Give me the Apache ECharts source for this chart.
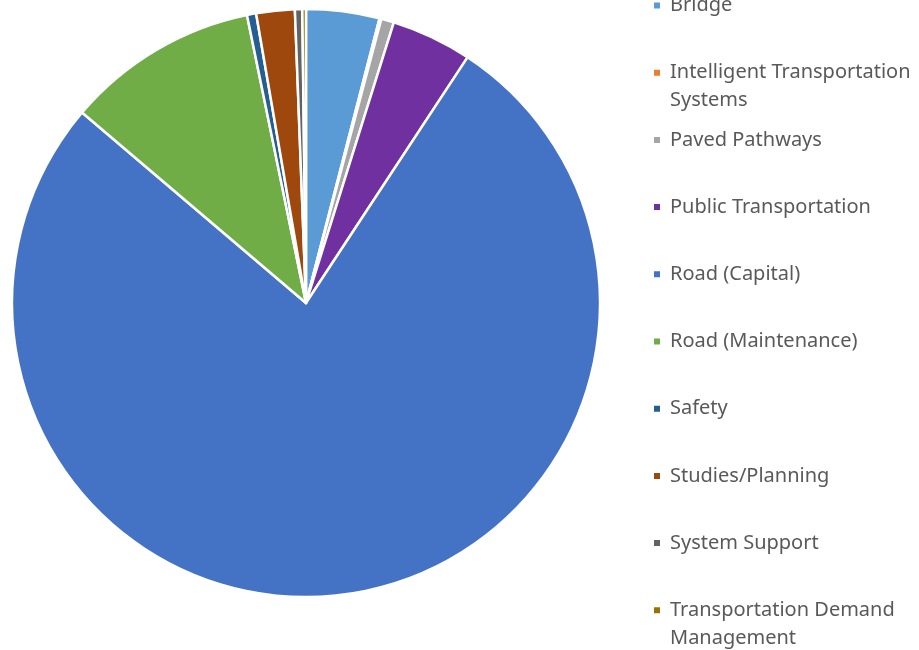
<!DOCTYPE html>
<html>
<head>
<meta charset="utf-8">
<script src="https://cdn.jsdelivr.net/npm/echarts@6/dist/echarts.min.js"></script>
<style>
	html, body { margin: 0; padding: 0; background: #fff; }
	#chart { width: 919px; height: 650px; }
</style>
</head>
<body>
<div id="chart"></div>
<script>
var categories = [
	"Bridge",
	"Intelligent Transportation Systems",
	"Paved Pathways",
	"Public Transportation",
	"Road (Capital)",
	"Road (Maintenance)",
	"Safety",
	"Studies/Planning",
	"System Support",
	"Transportation Demand Management"
];
// share of total, in percent
var shares = [4.0, 0.1, 0.7, 4.4, 76.5, 10.5, 0.5, 2.1, 0.4, 0.2];
var colors = ["#5B9BD5", "#ED7D31", "#A5A5A5", "#7030A0", "#4472C4",
	"#70AD47", "#255E91", "#9E480E", "#636363", "#997300"];
// how legend names wrap
var legendText = {
	"Intelligent Transportation Systems": "Intelligent Transportation\nSystems",
	"Transportation Demand Management": "Transportation Demand\nManagement"
};

var chart = echarts.init(document.getElementById('chart'));

var pieData = [];
var legendData = [];
for (var i = 0; i < categories.length; i++) {
	pieData.push({ name: categories[i], value: shares[i], itemStyle: { color: colors[i] } });
	// every entry gets the same 3-line slot so markers sit evenly
	var multi = !!legendText[categories[i]];
	legendData.push({
		name: categories[i],
		textStyle: { padding: multi ? [0, 0, 0, 4] : [28, 0, 28, 4] }
	});
}

var option = {
	animation: false,
	legend: {
		orient: 'vertical',
		left: 652,
		top: -36.5,
		height: 800,
		padding: 0,
		itemGap: -16.8,
		itemWidth: 8,
		itemHeight: 8,
		icon: 'rect',
		selectedMode: false,
		data: legendData,
		formatter: function (name) {
			// blank first line keeps the marker level with the first text line
			return legendText[name] ? '\n' + legendText[name] : name;
		},
		textStyle: {
			fontFamily: 'Noto Sans',
			fontSize: 20,
			lineHeight: 28,
			color: '#595959'
		}
	},
	series: [{
		type: 'pie',
		center: [306, 303],
		radius: 294,
		startAngle: 90,
		clockwise: true,
		silent: true,
		label: { show: false },
		labelLine: { show: false },
		itemStyle: { borderColor: '#fff', borderWidth: 2.5 },
		data: pieData
	}]
};

chart.setOption(option);
</script>
</body>
</html>
